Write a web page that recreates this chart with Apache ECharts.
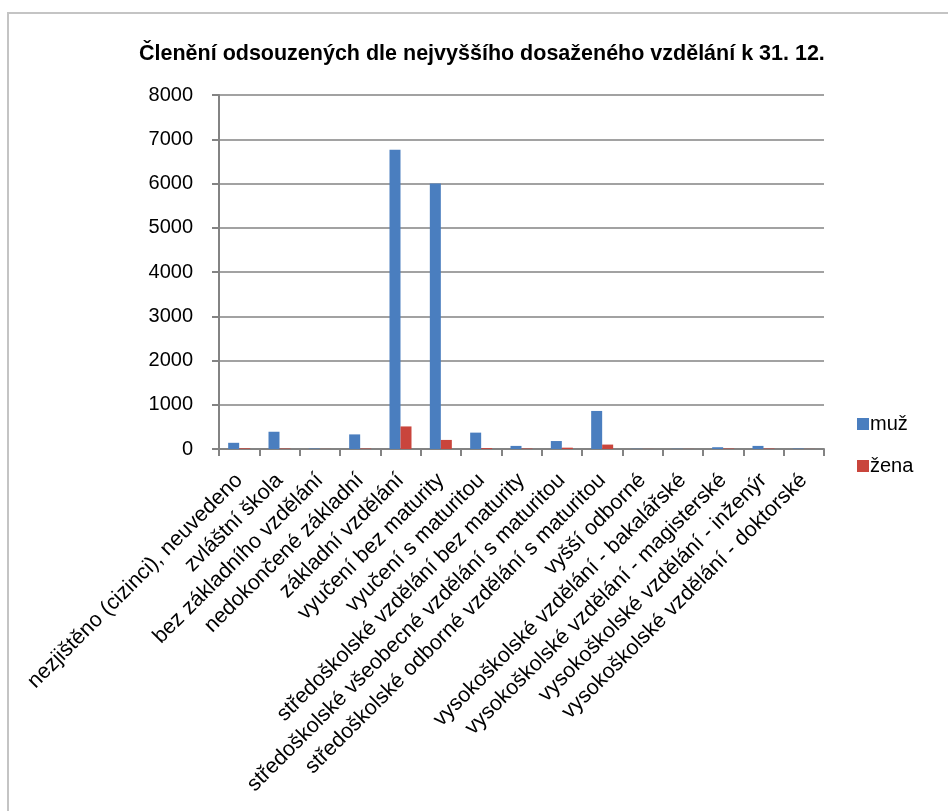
<!DOCTYPE html>
<html>
<head>
<meta charset="utf-8">
<script src="https://cdn.jsdelivr.net/npm/echarts@6/dist/echarts.min.js"></script>
<style>
  html, body { margin: 0; padding: 0; background: #fff; }
  #frame {
    position: absolute; left: 7px; top: 12px; width: 960px; height: 820px;
    border-left: 2px solid #c4c4c4; border-top: 2px solid #c4c4c4;
  }
  #chart { position: absolute; left: 0; top: 0; width: 948px; height: 811px; }
</style>
</head>
<body>
<div id="frame"></div>
<div id="chart"></div>
<script>
const categories = [
  'nezjištěno (cizinci), neuvedeno',
  'zvláštní škola',
  'bez základního vzdělání',
  'nedokončené základní',
  'základní vzdělání',
  'vyučení bez maturity',
  'vyučení s maturitou',
  'středoškolské vzdělání bez maturity',
  'středoškolské všeobecné vzdělání s maturitou',
  'středoškolské odborné vzdělání s maturitou',
  'vyšší odborné',
  'vysokoškolské vzdělání - bakalářské',
  'vysokoškolské vzdělání - magisterské',
  'vysokoškolské vzdělání - inženýr',
  'vysokoškolské vzdělání - doktorské'
];
const muz = [140, 390, 10, 330, 6760, 6000, 370, 70, 180, 860, 5, 5, 40, 70, 10];
const zena = [15, 10, 2, 10, 510, 205, 20, 10, 30, 100, 2, 2, 10, 10, 2];
const seriesNames = ['muž', 'žena'];

const font = '"Liberation Sans", Arial, sans-serif';
const chart = echarts.init(document.getElementById('chart'));

chart.setOption({
  animation: false,
  title: {
    text: 'Členění odsouzených dle nejvyššího dosaženého vzdělání k 31. 12.',
    left: 134,
    top: 38,
    textStyle: { fontFamily: font, fontSize: 21.5, fontWeight: 'bold', color: '#000' }
  },
  legend: {
    orient: 'vertical',
    left: 852,
    top: 409,
    itemWidth: 12,
    itemHeight: 12,
    itemGap: 22,
    icon: 'rect',
    textStyle: { fontFamily: font, fontSize: 20, color: '#000', padding: [0, 0, 0, -4] },
    data: seriesNames
  },
  grid: { left: 219, right: 124, top: 95, bottom: 362 },
  xAxis: {
    type: 'category',
    data: categories,
    axisLine: { lineStyle: { color: '#838383', width: 2 } },
    axisTick: { show: true, length: 7, lineStyle: { color: '#838383', width: 2 } },
    axisLabel: {
      interval: 0,
      rotate: 45,
      margin: 28,
      fontFamily: font,
      fontSize: 21.5,
      color: '#000'
    }
  },
  yAxis: {
    type: 'value',
    min: 0,
    max: 8000,
    interval: 1000,
    axisLine: { show: true, lineStyle: { color: '#838383', width: 2 } },
    axisTick: { show: true, length: 7, lineStyle: { color: '#838383', width: 2 } },
    splitLine: { lineStyle: { color: '#838383', width: 1.5 } },
    axisLabel: {
      fontFamily: font,
      fontSize: 20,
      color: '#000',
      margin: 26,
      formatter: v => String(v)
    }
  },
  series: [
    {
      name: seriesNames[0],
      type: 'bar',
      data: muz,
      barWidth: 11,
      barGap: '0%',
      itemStyle: { color: '#4a7ebf' }
    },
    {
      name: seriesNames[1],
      type: 'bar',
      data: zena,
      barWidth: 11,
      itemStyle: { color: '#c9453c' }
    }
  ]
});
</script>
</body>
</html>
